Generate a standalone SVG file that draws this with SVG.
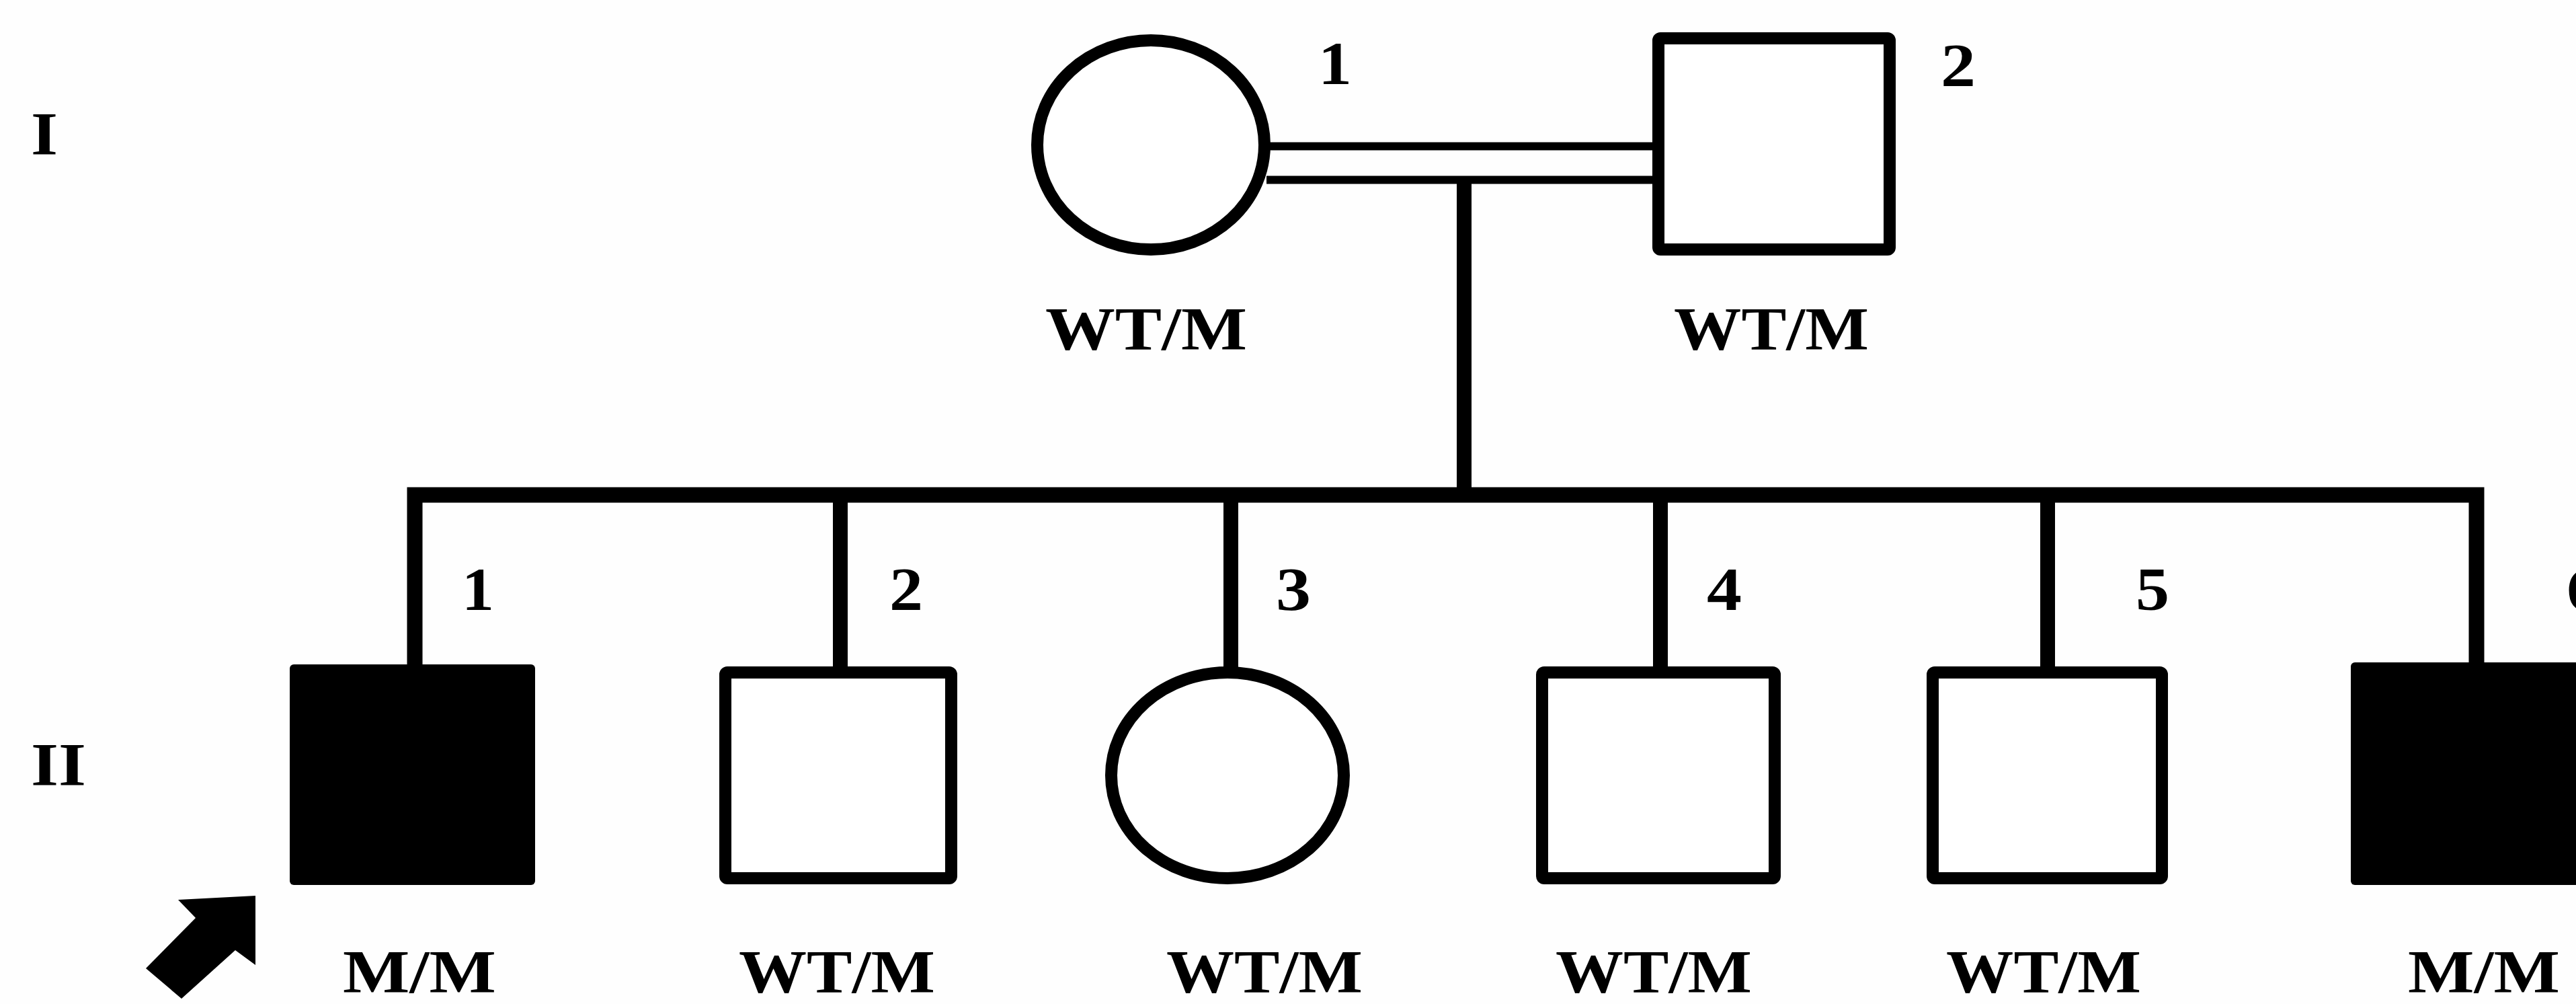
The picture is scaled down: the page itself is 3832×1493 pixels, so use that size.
<svg xmlns="http://www.w3.org/2000/svg" width="3832" height="1493" viewBox="0 0 3832 1493">
  <style>
    .lbl { font-family: "Liberation Serif", "Times New Roman", serif; font-weight: bold; font-size: 90px; fill: #000; text-anchor: middle; }
    .open { fill: #fff; stroke: #000; stroke-width: 18; }
    .aff { fill: #000; stroke: none; }
    .ln { fill: none; stroke: #000; stroke-width: 22; stroke-linejoin: miter; stroke-linecap: butt; }
    .dbl { fill: none; stroke: #000; stroke-width: 12; }
  </style>
  <rect x="0" y="0" width="3832" height="1493" fill="#fefefe"/>

  <g id="generation-labels">
    <text class="lbl" x="66" y="230" textLength="40" lengthAdjust="spacingAndGlyphs">I</text>
    <text class="lbl" x="87" y="1168" textLength="82" lengthAdjust="spacingAndGlyphs">II</text>
  </g>

  <g id="connectors">
    <line class="dbl" x1="1884" y1="217.5" x2="2464" y2="217.5"/>
    <line class="dbl" x1="1884" y1="267.5" x2="2464" y2="267.5"/>
    <line class="ln" x1="2178" y1="267" x2="2178" y2="736"/>
    <path class="ln" d="M617 990 V736 H3684 V985" style="stroke-width:23"/>
    <line class="ln" x1="1250" y1="736" x2="1250" y2="993"/>
    <line class="ln" x1="1831" y1="736" x2="1831" y2="993"/>
    <line class="ln" x1="2470" y1="736" x2="2470" y2="993"/>
    <line class="ln" x1="3046" y1="736" x2="3046" y2="993"/>
  </g>

  <g id="I-1">
    <ellipse class="open" cx="1712" cy="215.5" rx="169" ry="155.5"/>
    <text class="lbl" x="1986" y="125" textLength="50" lengthAdjust="spacingAndGlyphs">1</text>
    <text class="lbl" x="1705" y="520" textLength="300" lengthAdjust="spacingAndGlyphs">WT/M</text>
  </g>

  <g id="I-2">
    <rect class="open" x="2467" y="57" width="344" height="314" rx="3"/>
    <text class="lbl" x="2913" y="128" textLength="52" lengthAdjust="spacingAndGlyphs">2</text>
    <text class="lbl" x="2635" y="520" textLength="290" lengthAdjust="spacingAndGlyphs">WT/M</text>
  </g>

  <g id="II-1">
    <rect class="aff" x="431" y="988" width="365" height="328" rx="6"/>
    <text class="lbl" x="711" y="907" textLength="48" lengthAdjust="spacingAndGlyphs">1</text>
    <text class="lbl" x="624" y="1476" textLength="228" lengthAdjust="spacingAndGlyphs">M/M</text>
    <polygon id="proband-arrow" points="380,1332 265,1338 291,1365 217,1440 270,1485 350,1413 380,1435" fill="#000"/>
  </g>

  <g id="II-2">
    <rect class="open" x="1079" y="1000" width="336" height="306" rx="3"/>
    <text class="lbl" x="1348" y="907" textLength="50" lengthAdjust="spacingAndGlyphs">2</text>
    <text class="lbl" x="1245" y="1476" textLength="292" lengthAdjust="spacingAndGlyphs">WT/M</text>
  </g>

  <g id="II-3">
    <ellipse class="open" cx="1826" cy="1153" rx="173" ry="153"/>
    <text class="lbl" x="1924" y="907" textLength="52" lengthAdjust="spacingAndGlyphs">3</text>
    <text class="lbl" x="1881" y="1476" textLength="292" lengthAdjust="spacingAndGlyphs">WT/M</text>
  </g>

  <g id="II-4">
    <rect class="open" x="2294" y="1000" width="346" height="306" rx="3"/>
    <text class="lbl" x="2565" y="907" textLength="52" lengthAdjust="spacingAndGlyphs">4</text>
    <text class="lbl" x="2460" y="1476" textLength="292" lengthAdjust="spacingAndGlyphs">WT/M</text>
  </g>

  <g id="II-5">
    <rect class="open" x="2875" y="1000" width="341" height="306" rx="3"/>
    <text class="lbl" x="3202" y="907" textLength="50" lengthAdjust="spacingAndGlyphs">5</text>
    <text class="lbl" x="3040" y="1476" textLength="290" lengthAdjust="spacingAndGlyphs">WT/M</text>
  </g>

  <g id="II-6">
    <rect class="aff" x="3497" y="985" width="420" height="331" rx="6"/>
    <text class="lbl" x="3844" y="907" textLength="52" lengthAdjust="spacingAndGlyphs">6</text>
    <text class="lbl" x="3695" y="1476" textLength="226" lengthAdjust="spacingAndGlyphs">M/M</text>
  </g>
</svg>
